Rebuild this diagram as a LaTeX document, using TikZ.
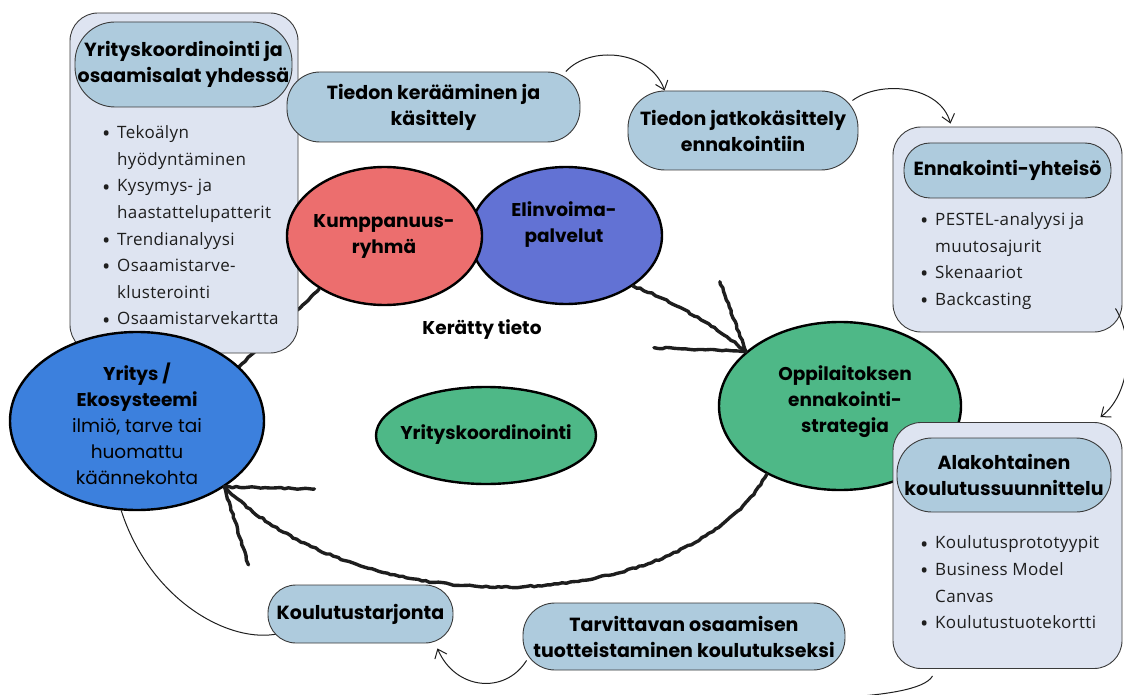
\documentclass[tikz,border=0pt]{standalone}
\usepackage{fontspec}
\setmainfont{Poppins}
\newfontfamily\bodyfont{Open Sans}[LetterSpace=2]
\usetikzlibrary{shapes.geometric,arrows.meta,decorations.pathmorphing,calc}

\definecolor{pillfill}{HTML}{AECBDD}
\definecolor{panelfill}{HTML}{DEE4F1}
\definecolor{edge}{HTML}{3A3A3A}
\definecolor{redfill}{HTML}{EC6E6E}
\definecolor{violetfill}{HTML}{6272D4}
\definecolor{bluefill}{HTML}{3C80DD}
\definecolor{greenfill}{HTML}{4EB887}
\definecolor{ink}{HTML}{1E1E1E}

\pgfdeclarelayer{behind}
\pgfsetlayers{behind,main}

% bullet helpers
\newcommand\blt{\makebox[15pt][l]{\raisebox{-0.35ex}{\scalebox{1.3}{\textbullet}}}}
\newcommand\bcnt{\hspace*{15pt}}

\tikzset{
  panel/.style={draw=edge, line width=0.9pt, fill=panelfill, rounded corners=28pt, inner sep=0pt},
  pill/.style={draw=edge, line width=0.9pt, fill=pillfill, inner sep=0pt, align=center,
    font=\bfseries\fontsize{19}{26}\selectfont, text=black},
  blob/.style={ellipse, draw=black, line width=2.4pt, inner sep=0pt},
  blobtext/.style={align=center, inner sep=0pt, text=black,
    font=\bfseries\fontsize{18.5}{26}\selectfont},
  bullets/.style={anchor=west, align=left, inner sep=0pt, text=ink,
    font=\bodyfont\fontsize{17}{26.6}\selectfont},
  thinline/.style={draw=ink, line width=1pt},
  thinarrow/.style={thinline, -{Straight Barb[length=8pt,width=13pt]}},
  rough/.style={draw=ink, line width=3.4pt, line cap=round, line join=round,
    decorate, decoration={random steps, segment length=4pt, amplitude=0.8pt}},
}

\begin{document}
\begin{tikzpicture}[x=1pt,y=-1pt]
\useasboundingbox (0,0) rectangle (1124,695);

% ---- left panel: company coordination and competence areas
\node[panel, minimum width=228pt, minimum height=340pt] (leftbox) at (184,183) {};
\node[pill, minimum width=217pt, minimum height=85pt, rounded corners=40pt] (lefthead) at (183.5,64.5)
  {Yrityskoordinointi ja\\osaamisalat yhdessä};
\node[bullets] (leftlist) at (102,227) {%
  \blt Tekoälyn\\ \bcnt hyödyntäminen\\
  \blt Kysymys- ja\\ \bcnt haastattelupatterit\\
  \blt Trendianalyysi\\
  \blt Osaamistarve-\\ \bcnt klusterointi\\
  \blt Osaamistarvekartta};

% ---- ellipses
\node[blob, fill=bluefill, minimum width=254pt, minimum height=178pt] (yri) at (137,421) {};
\node[blobtext] (yritext) at (137,424) {Yritys /\\Ekosysteemi\\
  \mdseries ilmiö, tarve tai\\ \mdseries huomattu\\ \mdseries käännekohta};

\node[blob, fill=violetfill, minimum width=192pt, minimum height=137pt] (elin) at (566,235.5) {};
\node[blob, fill=redfill, minimum width=195pt, minimum height=138pt] (kum) at (384.5,236) {};
\node[blobtext] (kumtext) at (384,236.5) {Kumppanuus-\\ryhmä};
\node[blobtext] (elintext) at (564,224.5) {Elinvoima-\\palvelut};
\node[blobtext] (kerattext) at (482,330) {Kerätty tieto};

\node[blob, fill=greenfill, minimum width=220pt, minimum height=97pt] (ykoord) at (486,435.5) {};
\node[blobtext] (ykoordtext) at (486,435) {Yrityskoordinointi};

\node[blob, fill=greenfill, minimum width=242pt, minimum height=168pt] (opp) at (840,406) {};
\node[blobtext] (opptext) at (845,402) {Oppilaitoksen\\ennakointi-\\strategia};

% ---- right panels
\node[panel, minimum width=229pt, minimum height=205pt] (ennbox) at (1007.5,229.5) {};
\node[pill, minimum width=207pt, minimum height=55pt, rounded corners=26pt] (ennhead) at (1007.5,170.5)
  {Ennakointi-yhteisö};
\node[bullets] (ennlist) at (920,261) {%
  \blt PESTEL-analyysi ja\\ \bcnt muutosajurit\\
  \blt Skenaariot\\
  \blt Backcasting};

\node[panel, minimum width=229pt, minimum height=246pt] (altbox) at (1007.5,545.5) {};
\node[pill, minimum width=214pt, minimum height=74pt, rounded corners=35pt] (althead) at (1004,475)
  {Alakohtainen\\koulutussuunnittelu};
\node[bullets] (altlist) at (920,584) {%
  \blt Koulutusprototyypit\\
  \blt Business Model\\ \bcnt Canvas\\
  \blt Koulutustuotekortti};

% ---- process pills
\node[pill, minimum width=293pt, minimum height=70pt, rounded corners=33pt] (ker) at (433.5,107)
  {Tiedon kerääminen ja\\käsittely};
\node[pill, minimum width=230pt, minimum height=79pt, rounded corners=37pt] (jat) at (743,130.5)
  {Tiedon jatkokäsittely\\ennakointiin};
\node[pill, minimum width=322pt, minimum height=67pt, rounded corners=32pt] (tar) at (684,636.5)
  {Tarvittavan osaamisen\\tuotteistaminen koulutukseksi};
\node[pill, minimum width=185pt, minimum height=58pt, rounded corners=28pt] (kou) at (360.5,614)
  {Koulutustarjonta};

% ---- connectors hidden partly behind shapes
\begin{pgfonlayer}{behind}
  \draw[rough] (yri.28) -- (kum.-141);
  \draw[thinline] ($(kou.south west)+(12,-10)$) .. controls (230,645) and (150,600) .. (yri.-100);
\end{pgfonlayer}

% ---- thick hand-drawn arrows
\coordinate (tipopp) at (opp.150);
\draw[rough] (elin.-37) .. controls (670,300) and (710,322) .. (tipopp);
\draw[rough] (tipopp) -- ++(-26,-70);
\draw[rough] (tipopp) -- ++(-92,-4);

\coordinate (tipyri) at (yri.-37);
\draw[rough] (opp.-137) .. controls (690,612) and (370,632) .. (tipyri);
\draw[rough] (tipyri) -- ++(90,2);
\draw[rough] (tipyri) -- ++(24,78);

% ---- thin flow arrows
\draw[thinarrow] (ker.15.5) .. controls (590,45) and (650,50) .. (jat.153);
\draw[thinarrow] ($(jat.east)+(-6,-30)$) .. controls (880,80) and (940,85) .. ($(ennbox.north)+(-57,-3)$);
\draw[thinarrow] ($(ennbox.south east)+(-7,-24)$) .. controls (1135,340) and (1130,395) .. ($(altbox.north east)+(-22,-5)$);
\coordinate (offpage) at (848,697);
\draw[thinline] ($(altbox.south)+(-75,7)$) .. controls (925,690) and (880,695) .. (offpage);
\draw[thinarrow] ($(tar.south west)+(4,-10)$) .. controls (505,695) and (455,690) .. ($(kou.south east)+(-16,5)$);

\end{tikzpicture}
\end{document}
